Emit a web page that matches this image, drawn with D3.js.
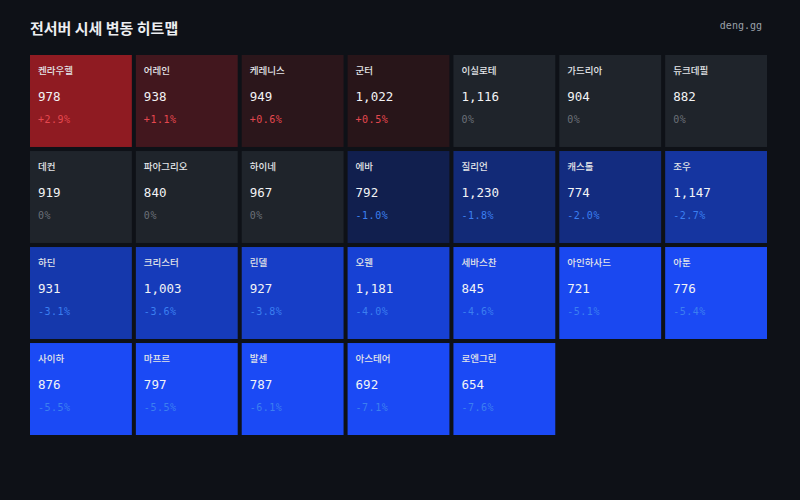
<!DOCTYPE html>
<html><head><meta charset="utf-8">
<script src="https://cdn.jsdelivr.net/npm/d3@7/dist/d3.min.js"></script>
<style>
html,body{margin:0;padding:0;background:#0e1117;}
svg{display:block;}
</style></head>
<body>
<svg id="chart" width="800" height="500"></svg>
<script>
const servers = ["켄라우헬","어레인","케레니스","군터","이실로테","가드리아","듀크데필",
  "데컨","파아그리오","하이네","에바","질리언","캐스톨","조우",
  "하딘","크리스터","린델","오웬","세바스찬","아인하사드","아툰",
  "사이하","마프르","발센","아스테어","로엔그린"];
const prices = [978,938,949,1022,1116,904,882,
  919,840,967,792,1230,774,1147,
  931,1003,927,1181,845,721,776,
  876,797,787,692,654];
const changes = [2.9,1.1,0.6,0.5,0,0,0,
  0,0,0,-1.0,-1.8,-2.0,-2.7,
  -3.1,-3.6,-3.8,-4.0,-4.6,-5.1,-5.4,
  -5.5,-5.5,-6.1,-7.1,-7.6];

const W=800,H=500,cols=7,rows=4;
const svg=d3.select("#chart");
svg.append("rect").attr("width",W).attr("height",H).attr("fill","#0e1117");

svg.append("text").attr("x",30).attr("y",34)
  .attr("font-family","'Noto Sans CJK KR',sans-serif").attr("font-weight",700)
  .attr("font-size",15).attr("fill","#eceef1").text("전서버 시세 변동 히트맵");
svg.append("text").attr("x",762).attr("y",29).attr("text-anchor","end")
  .attr("font-family","'DejaVu Sans Mono',monospace").attr("font-size",10)
  .attr("fill","#9aa0a8").text("deng.gg");

const x=d3.scaleBand().domain(d3.range(cols)).range([30,767]).paddingInner(0.038).paddingOuter(0);
const y=d3.scaleBand().domain(d3.range(rows)).range([55,435]).paddingInner(0.042).paddingOuter(0);

const upColor=d3.scaleLinear().domain([0.5,0.6,1.1,2.9])
  .range(["#281519","#2b161b","#42171e","#8f1b22"]).clamp(true);
const downColor=d3.scaleLinear().domain([-1.0,-1.8,-2.7,-3.6,-4.0,-4.6,-5.1,-5.5])
  .range(["#111f4e","#122a77","#1535a0","#163bba","#1741d4","#1844e2","#1a48f0","#1b4af5"]).clamp(true);
function fill(c){ if(c>0) return upColor(c); if(c<0) return downColor(c); return "#1f242b"; }
function pctColor(c){ if(c>0) return "#e5484f"; if(c<0) return "#3b7ff0"; return "#6b7078"; }
function pctText(c){ if(c===0) return "0%"; return (c>0?"+":"-")+Math.abs(c).toFixed(1)+"%"; }

const data=servers.map((n,i)=>({name:n,price:prices[i],change:changes[i],col:i%cols,row:Math.floor(i/cols)}));
const g=svg.selectAll("g.cell").data(data).join("g").attr("class","cell")
  .attr("transform",d=>`translate(${x(d.col)},${y(d.row)})`);
g.append("rect").attr("width",x.bandwidth()).attr("height",y.bandwidth()).attr("fill",d=>fill(d.change));
g.append("text").attr("x",8).attr("y",19)
  .attr("font-family","'Noto Sans CJK KR',sans-serif").attr("font-size",9.5).attr("font-weight",500)
  .attr("fill","#e3e5e8").text(d=>d.name);
g.append("text").attr("x",8).attr("y",45.5)
  .attr("font-family","'DejaVu Sans Mono',monospace").attr("font-size",12.5)
  .attr("fill","#f2f3f5").text(d=>d3.format(",")(d.price));
g.append("text").attr("x",8).attr("y",67.5)
  .attr("font-family","'DejaVu Sans Mono',monospace").attr("font-size",10).attr("letter-spacing",0.5)
  .attr("fill",d=>pctColor(d.change)).text(d=>pctText(d.change));
</script>
</body></html>
